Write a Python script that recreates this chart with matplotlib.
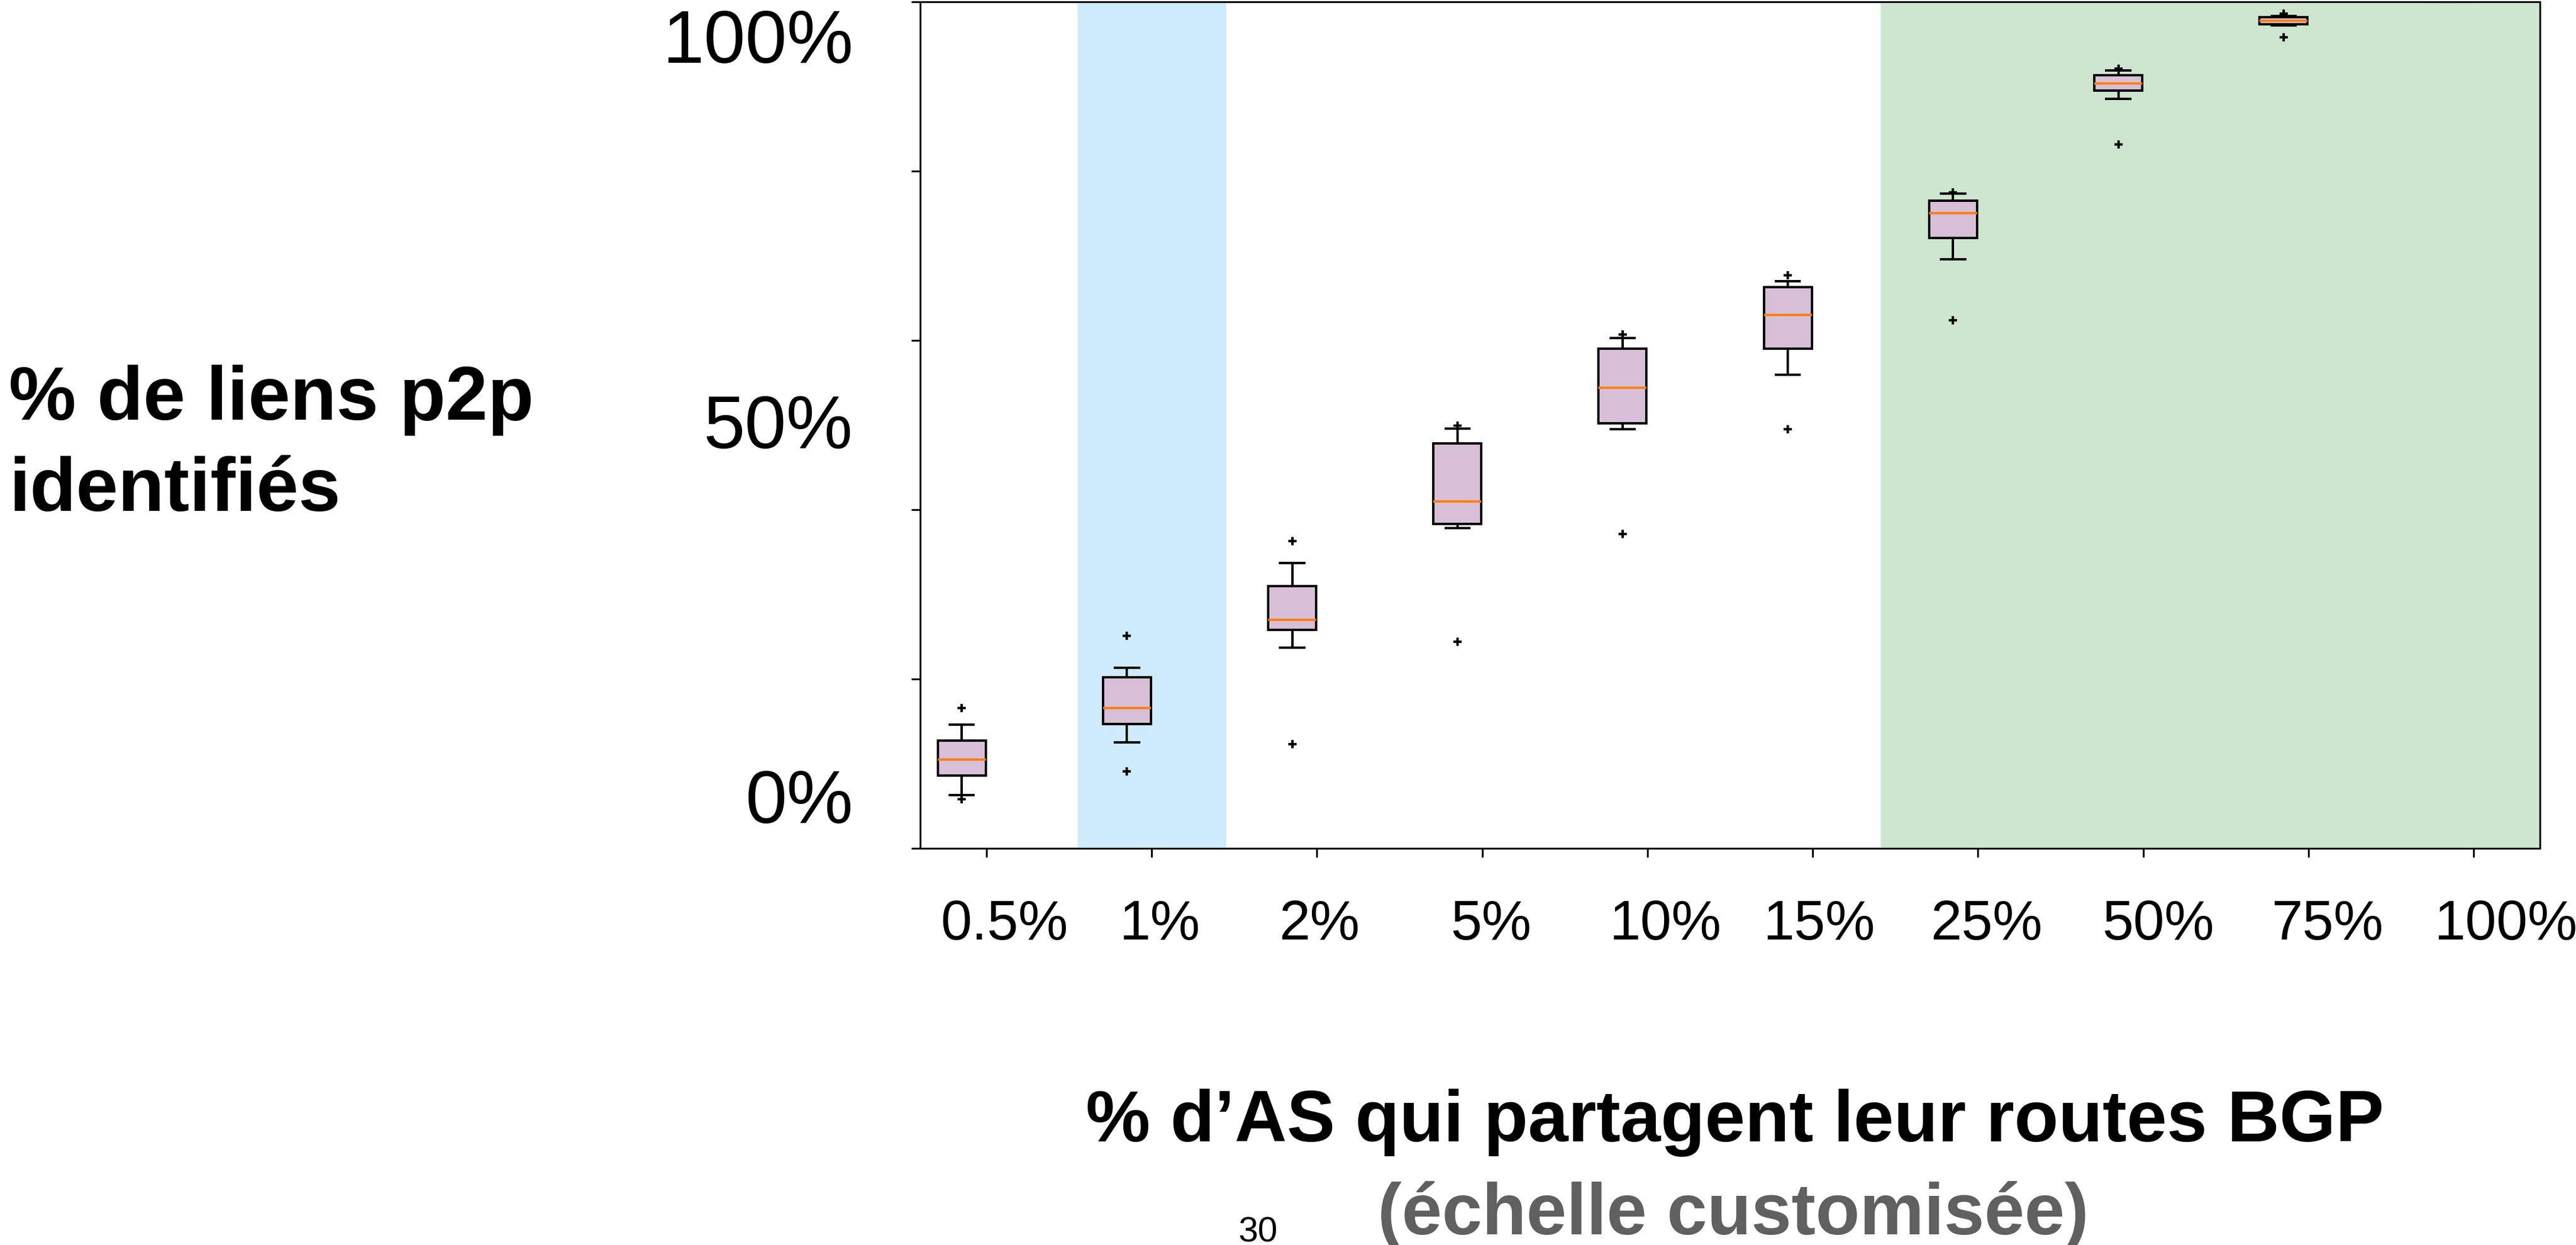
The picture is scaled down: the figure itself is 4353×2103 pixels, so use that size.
import matplotlib

matplotlib.use("Agg")
import matplotlib.pyplot as plt

plt.rcParams["font.family"] = ["Liberation Sans", "DejaVu Sans"]

# share of ASes publishing their BGP routes (custom x scale)
labels = ["0.5%", "1%", "2%", "5%", "10%", "15%", "25%", "50%", "75%", "100%"]

# share of p2p links identified, per sample size (percent)
whislo = [6.3, 12.5, 23.7, 37.8, 49.5, 55.9, 69.6, 88.5, 97.2, 100]
q1 = [8.6, 14.7, 25.8, 38.3, 50.2, 59.0, 72.1, 89.5, 97.35, 100]
med = [10.5, 16.6, 27.0, 41.0, 54.4, 63.0, 75.0, 90.3, 97.75, 100]
q3 = [12.7, 20.2, 31.0, 47.8, 59.0, 66.3, 76.5, 91.3, 98.15, 100]
whishi = [14.6, 21.3, 33.7, 49.6, 60.3, 67.0, 77.3, 91.9, 98.3, 100]
fliers = [
    [16.6, 5.8],
    [25.1, 9.1],
    [36.3, 12.3],
    [49.9, 24.4],
    [60.7, 37.1],
    [67.7, 49.5],
    [77.5, 62.4],
    [92.1, 83.1],
    [98.6, 95.8],
    [],
]

_BLUE = "#cdebfc"
_GREEN = "#cee5cf"
_BOX = "#d8bfd8"
_MEDIAN = "#ff7f0e"
_GRAY = "#606060"

DPI = 100
fig = plt.figure(figsize=(43.53, 21.03), dpi=DPI)
ax = fig.add_axes([0.3573, 0.3186, 0.6286, 0.6801])

ticks = list(range(1, len(labels) + 1))
stats = [
    dict(whislo=lo, q1=a, med=m, q3=b, whishi=hi, fliers=f)
    for lo, a, m, b, hi, f in zip(whislo, q1, med, q3, whishi, fliers)
]

# highlighted ranges of the custom scale
ax.axvspan(1.55, 2.45, color=_BLUE, lw=0, zorder=0)
ax.axvspan(6.41, 10.5, color=_GREEN, lw=0, zorder=0)

lw = 2.9
ax.bxp(
    stats,
    positions=[t - 0.15 for t in ticks],
    widths=0.29,
    patch_artist=True,
    boxprops=dict(facecolor=_BOX, edgecolor="black", linewidth=lw),
    whiskerprops=dict(color="black", linewidth=lw),
    capprops=dict(color="black", linewidth=lw),
    medianprops=dict(color=_MEDIAN, linewidth=lw),
    flierprops=dict(marker="+", markersize=10, markeredgewidth=3, markeredgecolor="black"),
    manage_ticks=False,
)

ax.set_xlim(0.6, 10.4)
ax.set_ylim(0, 100)
ax.set_xticks(ticks)
ax.set_xticklabels([])
ax.set_yticks(range(0, 101, 20))
ax.set_yticklabels([])
ax.tick_params(direction="out", length=11, width=2.2, color="black")
for sp in ax.spines.values():
    sp.set_linewidth(2.2)

# x labels sit a bit right of their ticks, as on the slide
label_dx = [30, 14, 4, 15, 31, 11, 15, 25, 32, 55]
for t, lab, dx in zip(ticks, labels, label_dx):
    ax.annotate(lab, xy=(t, 0), xycoords=("data", "axes fraction"),
                xytext=(dx * 72 / DPI, -154 * 72 / DPI), textcoords="offset points",
                ha="center", va="baseline", fontsize=68, annotation_clip=False)

# y labels only at 0, 50 and 100 %
for txt, y in [("0%", 0.030), ("50%", 0.4727), ("100%", 0.928)]:
    ax.text(-0.0415, y, txt, transform=ax.transAxes, ha="right", va="baseline", fontsize=91)

fig.text(0.00345, 1 - 709 / 2103, "% de liens p2p", fontsize=92, fontweight="bold", va="baseline")
fig.text(0.00345, 1 - 863 / 2103, "identifiés", fontsize=92, fontweight="bold", va="baseline")

fig.text(0.6736, 1 - 1928 / 2103, "% d’AS qui partagent leur routes BGP",
         fontsize=88, fontweight="bold", ha="center", va="baseline")
fig.text(0.6729, 1 - 2085 / 2103, "(échelle customisée)",
         fontsize=88, fontweight="bold", color=_GRAY, ha="center", va="baseline")
fig.text(0.4884, 1 - 2098 / 2103, "30", fontsize=43, ha="center", va="baseline")

fig.savefig("out.png", dpi=DPI, facecolor="white")
